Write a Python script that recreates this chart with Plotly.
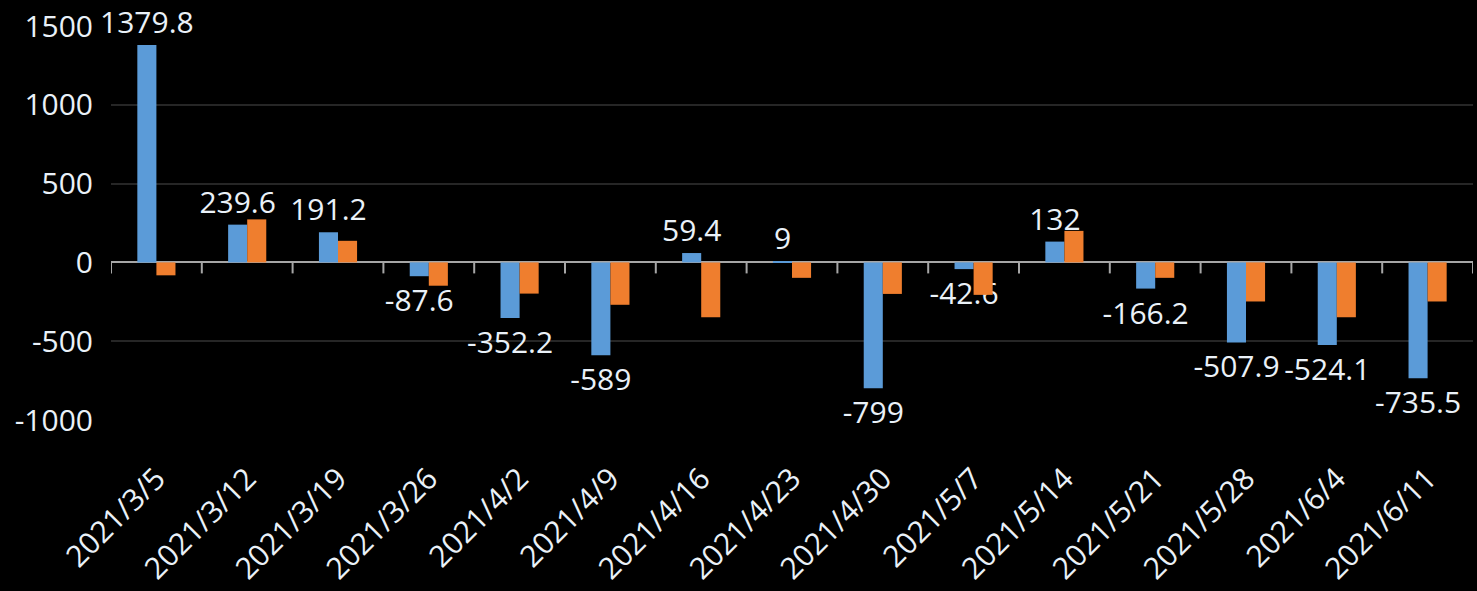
import plotly.graph_objects as go

categories = ["2021/3/5", "2021/3/12", "2021/3/19", "2021/3/26", "2021/4/2",
              "2021/4/9", "2021/4/16", "2021/4/23", "2021/4/30", "2021/5/7",
              "2021/5/14", "2021/5/21", "2021/5/28", "2021/6/4", "2021/6/11"]
series_blue = [1379.8, 239.6, 191.2, -87.6, -352.2, -589, 59.4, 9, -799, -42.6,
               132, -166.2, -507.9, -524.1, -735.5]
series_orange = [-82, 273, 137, -148, -198, -269, -348, -98, -200, -206,
                 200, -98, -248, -348, -248]
y_ticks = [-1000, -500, 0, 500, 1000, 1500]

FONT = "Open Sans"
TXT = "#eaf1f8"
FS = 30

fig = go.Figure()
fig.add_trace(go.Bar(
    x=categories, y=series_blue, name="blue",
    marker=dict(color="#5b9bd8", line=dict(width=0)),
    text=[f"{v:g}" for v in series_blue], textposition="outside",
    textfont=dict(family=FONT, size=FS, color=TXT),
    constraintext="none", cliponaxis=False,
))
fig.add_trace(go.Bar(
    x=categories, y=series_orange, name="orange",
    marker=dict(color="#ef7e2e", line=dict(width=0)),
))

shapes = []
for i in range(len(categories) + 1):
    shapes.append(dict(type="line", xref="x", yref="y", x0=i - 0.5, x1=i - 0.5,
                       ysizemode="pixel", yanchor=0, y0=0, y1=-11,
                       line=dict(color="#a6a6a6", width=2), layer="above"))

fig.update_layout(
    width=1477, height=591,
    paper_bgcolor="black", plot_bgcolor="black",
    margin=dict(l=111, r=4, t=22, b=169),
    barmode="group", bargap=0.58, bargroupgap=0,
    showlegend=False,
    shapes=shapes,
    font=dict(family=FONT, color=TXT, size=FS),
)
fig.update_xaxes(
    type="category", range=[-0.5, len(categories) - 0.5],
    showgrid=False, showline=False, ticks="", zeroline=False,
    tickangle=-45, tickfont=dict(family=FONT, size=FS, color=TXT),
    ticklabelstandoff=34,
)
fig.update_yaxes(
    range=[-1000, 1500], tickvals=y_ticks, ticktext=[str(v) for v in y_ticks],
    showgrid=True, gridcolor="#262626", gridwidth=2,
    zeroline=True, zerolinecolor="#a6a6a6", zerolinewidth=2,
    showline=False, ticks="",
    tickfont=dict(family=FONT, size=FS, color=TXT),
    ticklabelstandoff=17,
)

fig.write_html(
    "out.html",
    config={"displayModeBar": False},
    post_script="document.body.style.margin='0';document.body.style.background='black';document.body.style.overflow='hidden';",
)
